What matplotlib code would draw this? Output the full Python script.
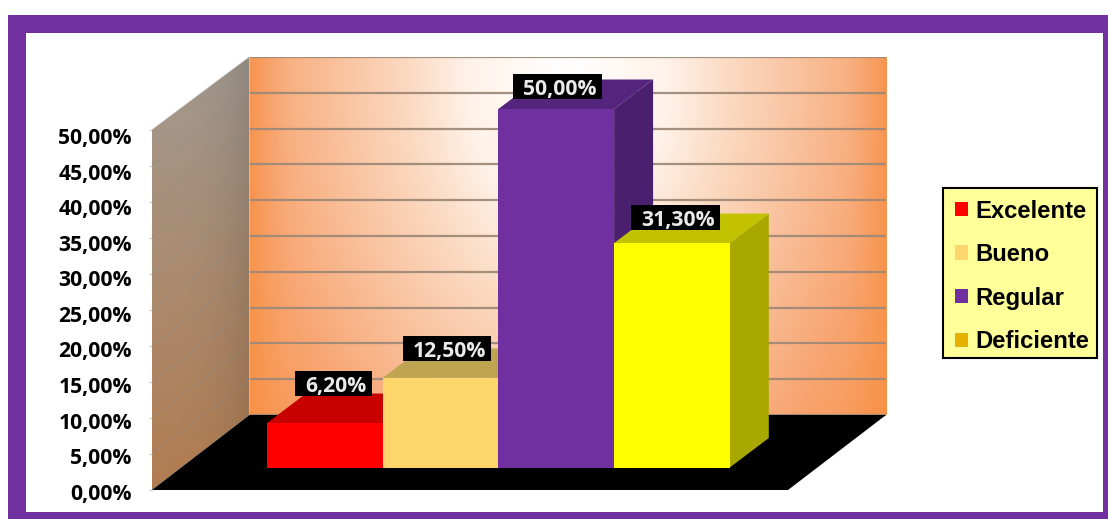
import numpy as np
import matplotlib
matplotlib.use("Agg")
import matplotlib.pyplot as plt
from matplotlib.patches import Polygon, Rectangle, Patch
from matplotlib.transforms import ScaledTranslation
from matplotlib.colors import to_rgb

# Survey results
categories = ["Excelente", "Bueno", "Regular", "Deficiente"]
values = [6.2, 12.5, 50.0, 31.3]
value_labels = ["6,20%", "12,50%", "50,00%", "31,30%"]
tick_values = [0, 5, 10, 15, 20, 25, 30, 35, 40, 45, 50]
tick_labels = ["0,00%", "5,00%", "10,00%", "15,00%", "20,00%", "25,00%",
               "30,00%", "35,00%", "40,00%", "45,00%", "50,00%"]

# Bar face colours: front, top, side
front_colors = ["#FF0000", "#FDD56A", "#7030A0", "#FFFF00"]
top_colors = ["#C80000", "#BFA552", "#55247C", "#C2C200"]
side_colors = ["#A00000", "#A88E40", "#4A206E", "#A8A800"]
legend_colors = ["#FF0000", "#FFD56E", "#7030A0", "#E6B000"]

W, H = 1108, 519
PURPLE = "#7030A0"
PX_X = 115.7          # pixels per category
PX_Y = 7.2            # pixels per percentage point
BAR_LEFT_PX = 267
AX_L, AX_R, AX_B, AX_T = 152, 886, 490, 57

fig = plt.figure(figsize=(W / 100, H / 100), dpi=100, facecolor="white")


def frame_rect(x0, y0, x1, y1, color, z, edge="none", lw=0):
    r = Rectangle((x0 / W, 1 - y1 / H), (x1 - x0) / W, (y1 - y0) / H,
                  transform=fig.transFigure, facecolor=color,
                  edgecolor=edge, linewidth=lw, zorder=z)
    fig.patches.append(r)


frame_rect(8, 15, 1110, 521, PURPLE, -5)
frame_rect(26, 33, 1103, 512, "white", -4)

ax = fig.add_axes([AX_L / W, 1 - AX_B / H, (AX_R - AX_L) / W, (AX_B - AX_T) / H])
ax.patch.set_alpha(0)
for s in ax.spines.values():
    s.set_visible(False)
xlim = ((AX_L - BAR_LEFT_PX) / PX_X, (AX_R - BAR_LEFT_PX) / PX_X)
ylim = (0, (AX_B - AX_T) / PX_Y)

# Chart box geometry in data units
x_front_l = xlim[0]
x_back_l = (249.5 - BAR_LEFT_PX) / PX_X
x_back_r = xlim[1]
x_front_r = (788 - BAR_LEFT_PX) / PX_X
y_back_0 = (490 - 415) / PX_Y
back_k = 358 / 360
y_back_top = y_back_0 + 50 * back_k
y_front_top = 50.0
bar_base = (490 - 467.5) / PX_Y
bar_k = 358.5 / 360
depth_x = 39 / PX_X
depth_y = 29.5 / PX_Y

# Back wall: fade from white at the top centre to orange, strongest along the sides
yy, xx = np.mgrid[0:1:220j, 0:1:400j]
u = (xx - 0.50) / 0.50
v = (yy - 0.95) / 1.35
t = np.sqrt(u ** 2 + v ** 2) / np.hypot(1, 0.95 / 1.35)
ramp_t = [0.0, 0.25, 0.42, 0.62, 0.8, 1.0]
ramp_c = np.array([to_rgb(c) for c in ["#FFFFFF", "#FFF3EA", "#FBD9C0", "#F9BE98", "#F8A673", "#F79650"]])
img = np.dstack([np.interp(t, ramp_t, ramp_c[:, k]) for k in range(3)])
edge = (np.clip((np.abs(u) - 0.85) / 0.15, 0, 1) ** 2 * 0.7)[..., None]
img = img * (1 - edge) + np.array(to_rgb("#F78F42")) * edge
ax.imshow(img, origin="lower", aspect="auto", zorder=1,
          extent=(x_back_l, x_back_r, y_back_0, y_back_top))

# Left wall: grey at the top turning brown at the bottom, darker towards the corner
yy2, xx2 = np.mgrid[0:1:200j, 0:1:100j]
top_c = np.array(to_rgb("#A39A90"))
bot_c = np.array(to_rgb("#B27C50"))
img2 = bot_c + (top_c - bot_c) * yy2[..., None]
img2 = img2 * (1 - 0.12 * xx2[..., None] ** 3)
left_pts = [(x_front_l, 0), (x_back_l, y_back_0), (x_back_l, y_back_top), (x_front_l, y_front_top)]
im2 = ax.imshow(img2, origin="lower", aspect="auto", zorder=1,
                extent=(x_front_l, x_back_l, 0, y_back_top))
clip = Polygon(left_pts, transform=ax.transData, facecolor="none", edgecolor="none")
ax.add_patch(clip)
im2.set_clip_path(clip)

# Gridlines on the walls
for tv in tick_values:
    yb = y_back_0 + tv * back_k
    ax.plot([x_back_l, x_back_r], [yb, yb], color="#A08A78", lw=1.6, alpha=0.95, zorder=2,
            solid_capstyle="butt")
    ax.plot([x_front_l, x_back_l], [tv, yb], color="#8F8B86", lw=1.0, alpha=0.35, zorder=2)

# Floor
ax.add_patch(Polygon([(x_front_l, 0), (x_front_r, 0), (x_back_r, y_back_0), (x_back_l, y_back_0)],
                     facecolor="black", edgecolor="none", zorder=3))

# Bars, left to right so that each one overlaps its neighbour's side face
for i, val in enumerate(values):
    y1 = bar_base + val * bar_k
    z = 4 + i
    ax.add_patch(Polygon([(i + 1, bar_base), (i + 1 + depth_x, bar_base + depth_y),
                          (i + 1 + depth_x, y1 + depth_y), (i + 1, y1)],
                         facecolor=side_colors[i], edgecolor="none", zorder=z))
    ax.add_patch(Polygon([(i, y1), (i + 1, y1), (i + 1 + depth_x, y1 + depth_y), (i + depth_x, y1 + depth_y)],
                         facecolor=top_colors[i], edgecolor="none", zorder=z))
    ax.add_patch(Rectangle((i, bar_base), 1, val * bar_k, facecolor=front_colors[i],
                           edgecolor="none", zorder=z))

# Value labels on black plates
plate_dx = [8.5, 6, 1, 3.5]
plate_dy = [39.5, 29.5, 22.5, 25.5]
plate_w = [77, 88, 89, 89]
PLATE_H = 25
for i, val in enumerate(values):
    cx = i + 0.5 + plate_dx[i] / PX_X
    cy = bar_base + val * bar_k + plate_dy[i] / PX_Y
    ax.add_patch(Rectangle((cx - plate_w[i] / 2 / PX_X, cy - PLATE_H / 2 / PX_Y),
                           plate_w[i] / PX_X, PLATE_H / PX_Y,
                           facecolor="black", edgecolor="none", zorder=10))
    ax.text(cx + 3 / PX_X, cy - 0.5 / PX_Y, value_labels[i], color="#EAEAEA", ha="center",
            va="center_baseline", family="Open Sans", weight="bold", fontsize=15.2, zorder=11)

ax.set_xlim(xlim)
ax.set_ylim(ylim)
ax.set_xticks([])
ax.set_yticks(tick_values)
ax.set_yticklabels(tick_labels, family="Open Sans", weight="bold", fontsize=15.2,
                   color="black", va="center_baseline")
ax.tick_params(axis="y", length=2, width=0.8, color="#D8C8B8", pad=12.5)
# The labels sit slightly tighter than the ticks and just below them
for tv, lbl in zip(tick_values, ax.get_yticklabels()):
    shift_px = 1.7 + 0.086 * tv
    lbl.set_transform(lbl.get_transform()
                      + ScaledTranslation(0, -shift_px / 100, fig.dpi_scale_trans))

# Legend: text and swatches on a separate pale yellow box
frame_rect(942.5, 187.5, 1096.5, 357.5, "#FFFF99", 5, edge="black", lw=1.5)
handles = [Patch(facecolor=c, edgecolor="none", label=n) for c, n in zip(legend_colors, categories)]
FS = 17.2
FS_PX = FS * 100 / 72
leg = fig.legend(handles=handles, loc="upper left",
                 bbox_to_anchor=(955 / W, 1 - 199.5 / H), bbox_transform=fig.transFigure,
                 prop={"family": "Liberation Sans", "weight": "bold", "size": FS},
                 frameon=False, borderaxespad=0, borderpad=0,
                 handlelength=13 / FS_PX, handleheight=13 / FS_PX,
                 handletextpad=7 / FS_PX, labelspacing=0.86)
leg.set_zorder(6)

fig.savefig("out.png", dpi=100, facecolor="white")
